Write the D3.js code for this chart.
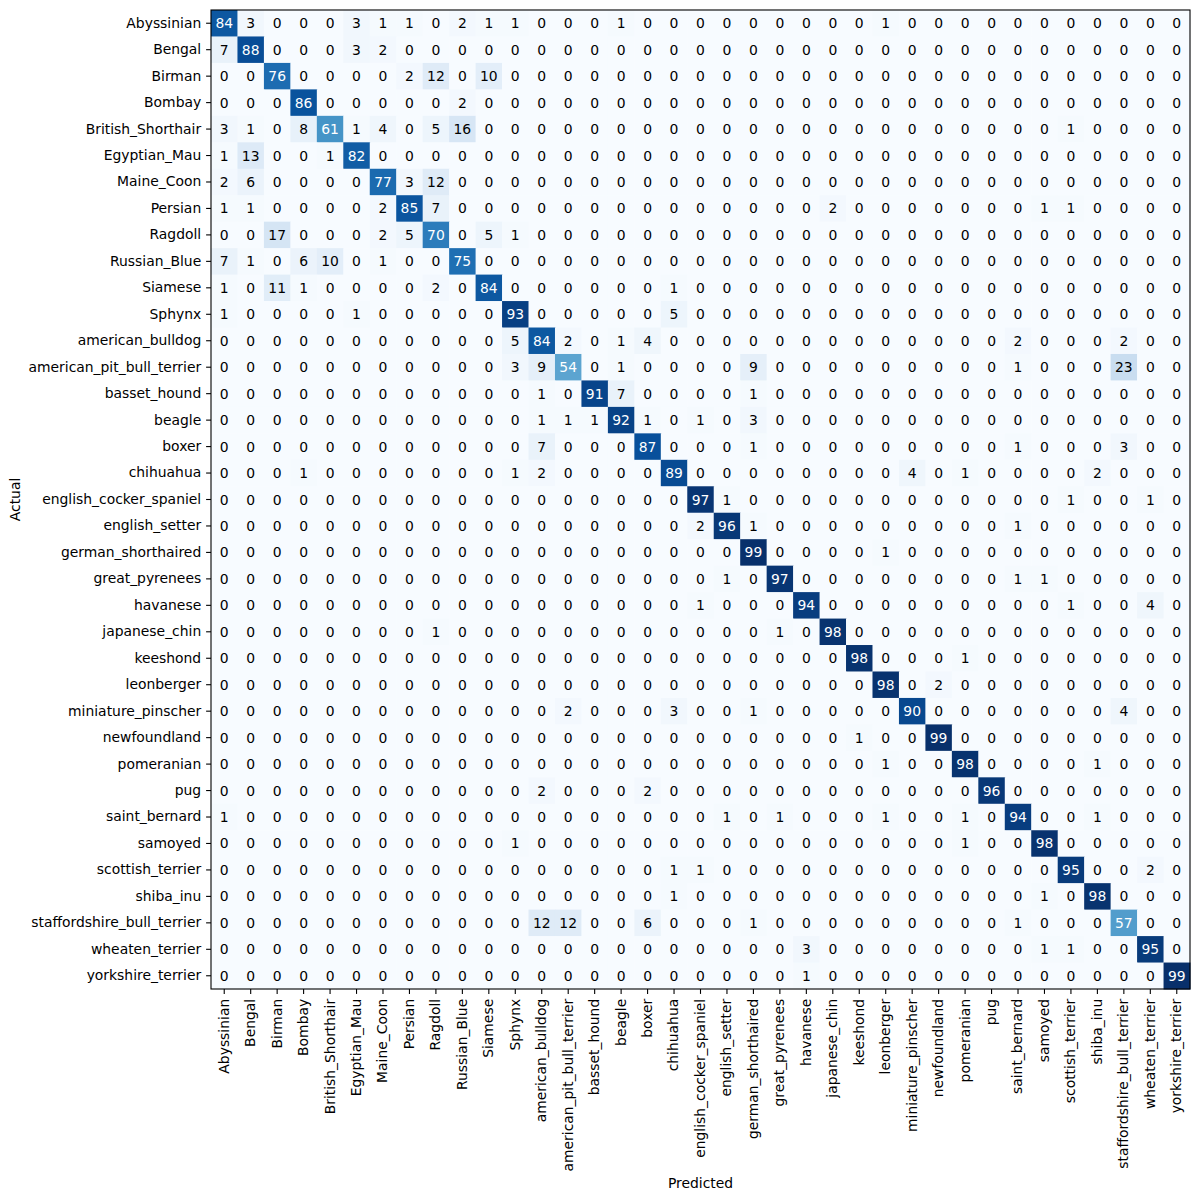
<!DOCTYPE html>
<html>
<head>
<meta charset="utf-8">
<script src="https://cdn.jsdelivr.net/npm/d3@7"></script>
<style>
  body { margin: 0; background: #fff; }
  text { font-family: "DejaVu Sans", sans-serif; }
</style>
</head>
<body>
<div id="chart"></div>
<script>
// class names (same order for actual rows and predicted columns)
var classes = ["Abyssinian", "Bengal", "Birman", "Bombay", "British_Shorthair", "Egyptian_Mau",
  "Maine_Coon", "Persian", "Ragdoll", "Russian_Blue", "Siamese", "Sphynx", "american_bulldog",
  "american_pit_bull_terrier", "basset_hound", "beagle", "boxer", "chihuahua",
  "english_cocker_spaniel", "english_setter", "german_shorthaired", "great_pyrenees", "havanese",
  "japanese_chin", "keeshond", "leonberger", "miniature_pinscher", "newfoundland", "pomeranian",
  "pug", "saint_bernard", "samoyed", "scottish_terrier", "shiba_inu",
  "staffordshire_bull_terrier", "wheaten_terrier", "yorkshire_terrier"];

// confusion counts, one row per actual class
var counts = [
  [84,3,0,0,0,3,1,1,0,2, 1,1,0,0,0,1,0,0,0,0, 0,0,0,0,0,1,0,0,0,0, 0,0,0,0,0,0,0],
  [7,88,0,0,0,3,2,0,0,0, 0,0,0,0,0,0,0,0,0,0, 0,0,0,0,0,0,0,0,0,0, 0,0,0,0,0,0,0],
  [0,0,76,0,0,0,0,2,12,0, 10,0,0,0,0,0,0,0,0,0, 0,0,0,0,0,0,0,0,0,0, 0,0,0,0,0,0,0],
  [0,0,0,86,0,0,0,0,0,2, 0,0,0,0,0,0,0,0,0,0, 0,0,0,0,0,0,0,0,0,0, 0,0,0,0,0,0,0],
  [3,1,0,8,61,1,4,0,5,16, 0,0,0,0,0,0,0,0,0,0, 0,0,0,0,0,0,0,0,0,0, 0,0,1,0,0,0,0],
  [1,13,0,0,1,82,0,0,0,0, 0,0,0,0,0,0,0,0,0,0, 0,0,0,0,0,0,0,0,0,0, 0,0,0,0,0,0,0],
  [2,6,0,0,0,0,77,3,12,0, 0,0,0,0,0,0,0,0,0,0, 0,0,0,0,0,0,0,0,0,0, 0,0,0,0,0,0,0],
  [1,1,0,0,0,0,2,85,7,0, 0,0,0,0,0,0,0,0,0,0, 0,0,0,2,0,0,0,0,0,0, 0,1,1,0,0,0,0],
  [0,0,17,0,0,0,2,5,70,0, 5,1,0,0,0,0,0,0,0,0, 0,0,0,0,0,0,0,0,0,0, 0,0,0,0,0,0,0],
  [7,1,0,6,10,0,1,0,0,75, 0,0,0,0,0,0,0,0,0,0, 0,0,0,0,0,0,0,0,0,0, 0,0,0,0,0,0,0],
  [1,0,11,1,0,0,0,0,2,0, 84,0,0,0,0,0,0,1,0,0, 0,0,0,0,0,0,0,0,0,0, 0,0,0,0,0,0,0],
  [1,0,0,0,0,1,0,0,0,0, 0,93,0,0,0,0,0,5,0,0, 0,0,0,0,0,0,0,0,0,0, 0,0,0,0,0,0,0],
  [0,0,0,0,0,0,0,0,0,0, 0,5,84,2,0,1,4,0,0,0, 0,0,0,0,0,0,0,0,0,0, 2,0,0,0,2,0,0],
  [0,0,0,0,0,0,0,0,0,0, 0,3,9,54,0,1,0,0,0,0, 9,0,0,0,0,0,0,0,0,0, 1,0,0,0,23,0,0],
  [0,0,0,0,0,0,0,0,0,0, 0,0,1,0,91,7,0,0,0,0, 1,0,0,0,0,0,0,0,0,0, 0,0,0,0,0,0,0],
  [0,0,0,0,0,0,0,0,0,0, 0,0,1,1,1,92,1,0,1,0, 3,0,0,0,0,0,0,0,0,0, 0,0,0,0,0,0,0],
  [0,0,0,0,0,0,0,0,0,0, 0,0,7,0,0,0,87,0,0,0, 1,0,0,0,0,0,0,0,0,0, 1,0,0,0,3,0,0],
  [0,0,0,1,0,0,0,0,0,0, 0,1,2,0,0,0,0,89,0,0, 0,0,0,0,0,0,4,0,1,0, 0,0,0,2,0,0,0],
  [0,0,0,0,0,0,0,0,0,0, 0,0,0,0,0,0,0,0,97,1, 0,0,0,0,0,0,0,0,0,0, 0,0,1,0,0,1,0],
  [0,0,0,0,0,0,0,0,0,0, 0,0,0,0,0,0,0,0,2,96, 1,0,0,0,0,0,0,0,0,0, 1,0,0,0,0,0,0],
  [0,0,0,0,0,0,0,0,0,0, 0,0,0,0,0,0,0,0,0,0, 99,0,0,0,0,1,0,0,0,0, 0,0,0,0,0,0,0],
  [0,0,0,0,0,0,0,0,0,0, 0,0,0,0,0,0,0,0,0,1, 0,97,0,0,0,0,0,0,0,0, 1,1,0,0,0,0,0],
  [0,0,0,0,0,0,0,0,0,0, 0,0,0,0,0,0,0,0,1,0, 0,0,94,0,0,0,0,0,0,0, 0,0,1,0,0,4,0],
  [0,0,0,0,0,0,0,0,1,0, 0,0,0,0,0,0,0,0,0,0, 0,1,0,98,0,0,0,0,0,0, 0,0,0,0,0,0,0],
  [0,0,0,0,0,0,0,0,0,0, 0,0,0,0,0,0,0,0,0,0, 0,0,0,0,98,0,0,0,1,0, 0,0,0,0,0,0,0],
  [0,0,0,0,0,0,0,0,0,0, 0,0,0,0,0,0,0,0,0,0, 0,0,0,0,0,98,0,2,0,0, 0,0,0,0,0,0,0],
  [0,0,0,0,0,0,0,0,0,0, 0,0,0,2,0,0,0,3,0,0, 1,0,0,0,0,0,90,0,0,0, 0,0,0,0,4,0,0],
  [0,0,0,0,0,0,0,0,0,0, 0,0,0,0,0,0,0,0,0,0, 0,0,0,0,1,0,0,99,0,0, 0,0,0,0,0,0,0],
  [0,0,0,0,0,0,0,0,0,0, 0,0,0,0,0,0,0,0,0,0, 0,0,0,0,0,1,0,0,98,0, 0,0,0,1,0,0,0],
  [0,0,0,0,0,0,0,0,0,0, 0,0,2,0,0,0,2,0,0,0, 0,0,0,0,0,0,0,0,0,96, 0,0,0,0,0,0,0],
  [1,0,0,0,0,0,0,0,0,0, 0,0,0,0,0,0,0,0,0,1, 0,1,0,0,0,1,0,0,1,0, 94,0,0,1,0,0,0],
  [0,0,0,0,0,0,0,0,0,0, 0,1,0,0,0,0,0,0,0,0, 0,0,0,0,0,0,0,0,1,0, 0,98,0,0,0,0,0],
  [0,0,0,0,0,0,0,0,0,0, 0,0,0,0,0,0,0,1,1,0, 0,0,0,0,0,0,0,0,0,0, 0,0,95,0,0,2,0],
  [0,0,0,0,0,0,0,0,0,0, 0,0,0,0,0,0,0,1,0,0, 0,0,0,0,0,0,0,0,0,0, 0,1,0,98,0,0,0],
  [0,0,0,0,0,0,0,0,0,0, 0,0,12,12,0,0,6,0,0,0, 1,0,0,0,0,0,0,0,0,0, 1,0,0,0,57,0,0],
  [0,0,0,0,0,0,0,0,0,0, 0,0,0,0,0,0,0,0,0,0, 0,0,3,0,0,0,0,0,0,0, 0,1,1,0,0,95,0],
  [0,0,0,0,0,0,0,0,0,0, 0,0,0,0,0,0,0,0,0,0, 0,0,1,0,0,0,0,0,0,0, 0,0,0,0,0,0,99]
];

var xLabel = "Predicted";
var yLabel = "Actual";

// plot area matches the matplotlib axes box
var margin = {top: 10, left: 211}
  , width = 979
  , height = 979
  , fontSize = 13.9;

// flatten matrix into cells
var cells = [];
counts.forEach(function(row, i) {
  row.forEach(function(v, j) {
    cells.push({actual: classes[i], predicted: classes[j], value: v});
  });
});

var maxVal = d3.max(cells, function(d) { return d.value; });
var thresh = maxVal / 2;

var x = d3.scaleBand().domain(classes).range([0, width]);
var y = d3.scaleBand().domain(classes).range([0, height]);

// matplotlib "Blues" is a linear ramp through the 9 colorbrewer stops
var color = d3.scaleLinear()
  .domain(d3.range(9).map(function(i) { return i * maxVal / 8; }))
  .range(d3.schemeBlues[9])
  .interpolate(d3.interpolateRgb);

var svg = d3.select("#chart")
  .append("svg")
  .attr("width", 1200)
  .attr("height", 1200);

var main = svg.append("g")
  .attr("transform", "translate(" + margin.left + "," + margin.top + ")");

// cells
main.append("g")
  .selectAll("rect")
  .data(cells)
  .enter().append("rect")
    .attr("x", function(d) { return x(d.predicted); })
    .attr("y", function(d) { return y(d.actual); })
    .attr("width", x.bandwidth() + 0.5)
    .attr("height", y.bandwidth() + 0.5)
    .attr("fill", function(d) { return color(d.value); });

// cell counts
main.append("g")
  .selectAll("text")
  .data(cells)
  .enter().append("text")
    .attr("x", function(d) { return x(d.predicted) + x.bandwidth() / 2; })
    .attr("y", function(d) { return y(d.actual) + y.bandwidth() / 2; })
    .attr("text-anchor", "middle")
    .attr("dy", "0.36em")
    .attr("font-size", fontSize)
    .attr("fill", function(d) { return d.value > thresh ? "#ffffff" : "#000000"; })
    .text(function(d) { return d.value; });

// x axis
var xAxis = main.append("g")
  .attr("transform", "translate(0," + height + ")")
  .call(d3.axisBottom(x).tickSize(4.9).tickPadding(4.9));
xAxis.select(".domain").remove();
xAxis.selectAll("line").attr("stroke-width", 1.1);
xAxis.selectAll("text")
  .attr("font-size", fontSize)
  .attr("font-family", "DejaVu Sans")
  .attr("fill", "#000")
  .attr("text-anchor", "end")
  .attr("dy", "0.32em")
  .attr("transform", function() { return "translate(0,9.8) rotate(-90)"; })
  .attr("x", 0)
  .attr("y", 0);

// y axis
var yAxis = main.append("g")
  .call(d3.axisLeft(y).tickSize(4.9).tickPadding(4.9));
yAxis.select(".domain").remove();
yAxis.selectAll("line").attr("stroke-width", 1.1);
yAxis.selectAll("text")
  .attr("font-size", fontSize)
  .attr("font-family", "DejaVu Sans")
  .attr("fill", "#000");

// frame
main.append("rect")
  .attr("width", width)
  .attr("height", height)
  .attr("fill", "none")
  .attr("stroke", "#000")
  .attr("stroke-width", 1.1);

// axis titles
svg.append("text")
  .attr("text-anchor", "middle")
  .attr("font-size", fontSize)
  .attr("x", margin.left + width / 2)
  .attr("y", 1188)
  .text(xLabel);

svg.append("text")
  .attr("text-anchor", "middle")
  .attr("font-size", fontSize)
  .attr("transform", "translate(20," + (margin.top + height / 2) + ")rotate(-90)")
  .text(yLabel);
</script>
</body>
</html>
